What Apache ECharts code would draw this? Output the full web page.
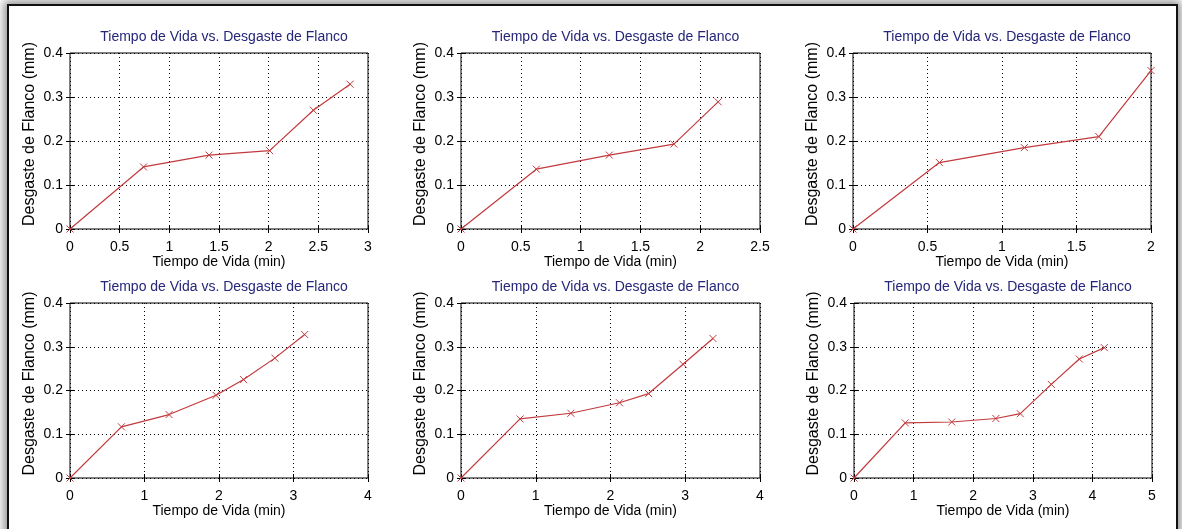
<!DOCTYPE html>
<html>
<head>
<meta charset="utf-8">
<script src="https://cdn.jsdelivr.net/npm/echarts@6/dist/echarts.min.js"></script>
<style>
    html, body { margin: 0; padding: 0; background: #fff; }
    #frame {
        position: absolute; left: 7px; top: 4px; width: 1167px; height: 540px;
        border: 2px solid #111; background: #fff;
        box-shadow: 0 0 9px 3px rgba(0, 0, 0, 0.45);
    }
    #main { position: absolute; left: 0; top: 0; width: 1182px; height: 529px; }
</style>
</head>
<body>
<div id="frame"></div>
<div id="main"></div>
<script>
    // lifetime (min) vs flank wear (mm), one pair of arrays per test
    var tiempo1 = [0, 0.74, 1.40, 2.01, 2.45, 2.82]
    var desgaste1 = [0, 0.141, 0.168, 0.178, 0.270, 0.329]
    var tiempo2 = [0, 0.63, 1.24, 1.78, 2.15]
    var desgaste2 = [0, 0.136, 0.168, 0.193, 0.289]
    var tiempo3 = [0, 0.58, 1.15, 1.65, 2.0]
    var desgaste3 = [0, 0.151, 0.185, 0.210, 0.360]
    var tiempo4 = [0, 0.69, 1.33, 1.96, 2.33, 2.75, 3.15]
    var desgaste4 = [0, 0.117, 0.145, 0.189, 0.225, 0.274, 0.328]
    var tiempo5 = [0, 0.79, 1.47, 2.12, 2.51, 2.97, 3.37]
    var desgaste5 = [0, 0.135, 0.148, 0.172, 0.193, 0.260, 0.319]
    var tiempo6 = [0, 0.86, 1.64, 2.38, 2.79, 3.31, 3.78, 4.20]
    var desgaste6 = [0, 0.126, 0.128, 0.136, 0.147, 0.214, 0.272, 0.298]

    var xMax = [3, 2.5, 2, 4, 4, 5]
    var xStep = [0.5, 0.5, 0.5, 1, 1, 1]
    var yMax = 0.4
    var yStep = 0.1

    var titulo = 'Tiempo de Vida vs. Desgaste de Flanco'
    var nombreX = 'Tiempo de Vida (min)'
    var nombreY = 'Desgaste de Flanco (mm)'

    var tiempos = [tiempo1, tiempo2, tiempo3, tiempo4, tiempo5, tiempo6]
    var desgastes = [desgaste1, desgaste2, desgaste3, desgaste4, desgaste5, desgaste6]

    // pixel boxes of the six panels
    var lefts = [70, 461, 853, 70, 461, 854]
    var widths = [298, 299, 298, 298, 299, 298]
    var tops = [53, 53, 53, 303, 303, 303]
    var heights = [176, 176, 176, 175, 175, 175]
    var titleY = [25, 25, 25, 275, 275, 275]

    var font = 'Liberation Sans, Arial, sans-serif'
    var rojo = '#c23a3e'
    var cruz = 'path://M0,0L10,10M10,0L0,10'

    var option = {
        animation: false,
        textStyle: { fontFamily: font },
        title: [], grid: [], xAxis: [], yAxis: [], series: []
    }

    for (var i = 0; i < 6; i++) {
        option.title.push({
            text: titulo,
            left: lefts[i] + widths[i] / 2,
            top: titleY[i],
            textAlign: 'center',
            textStyle: { fontFamily: font, fontSize: 14, fontWeight: 'normal', color: '#25257a' }
        })
        option.grid.push({
            left: lefts[i], top: tops[i], width: widths[i], height: heights[i],
            show: true, borderColor: '#000', borderWidth: 1, backgroundColor: 'transparent'
        })
        var ejeX = {
            type: 'value', gridIndex: i, min: 0, max: xMax[i], interval: xStep[i],
            axisLine: { show: false },
            axisTick: { show: true, inside: true, length: 4, lineStyle: { color: '#000' } },
            splitLine: { show: false }
        }
        option.xAxis.push(Object.assign({}, ejeX, {
            position: 'bottom',
            name: nombreX, nameLocation: 'middle', nameGap: 26,
            nameTextStyle: { fontFamily: font, fontSize: 14, color: '#000' },
            axisLabel: { fontFamily: font, fontSize: 14, color: '#000', margin: 11 },
            splitLine: { show: true, lineStyle: { color: '#000', width: 1, type: [1, 3] } }
        }))
        option.xAxis.push(Object.assign({}, ejeX, { position: 'top', axisLabel: { show: false } }))

        var ejeY = {
            type: 'value', gridIndex: i, min: 0, max: yMax, interval: yStep,
            axisLine: { show: false },
            axisTick: { show: true, inside: true, length: 4, lineStyle: { color: '#000' } },
            splitLine: { show: false }
        }
        option.yAxis.push(Object.assign({}, ejeY, {
            position: 'left',
            name: nombreY, nameLocation: 'middle', nameGap: 32,
            nameTextStyle: { fontFamily: font, fontSize: 16, color: '#000', padding: [0, 0, 0, 14] },
            axisLabel: { fontFamily: font, fontSize: 14, color: '#000', margin: 7 },
            splitLine: { show: true, lineStyle: { color: '#000', width: 1, type: [1, 3] } }
        }))
        option.yAxis.push(Object.assign({}, ejeY, { position: 'right', axisLabel: { show: false } }))

        var puntos = tiempos[i].map(function (t, k) { return [t, desgastes[i][k]] })
        option.series.push({
            type: 'line',
            xAxisIndex: 2 * i,
            yAxisIndex: 2 * i,
            data: puntos,
            symbol: cruz,
            symbolSize: 7,
            showAllSymbol: true,
            lineStyle: { color: rojo, width: 1.2 },
            itemStyle: { color: rojo, borderColor: rojo, borderWidth: 1 }
        })
    }

    var myChart = echarts.init(document.getElementById('main'), null, { renderer: 'canvas' })
    myChart.setOption(option)
</script>
</body>
</html>
